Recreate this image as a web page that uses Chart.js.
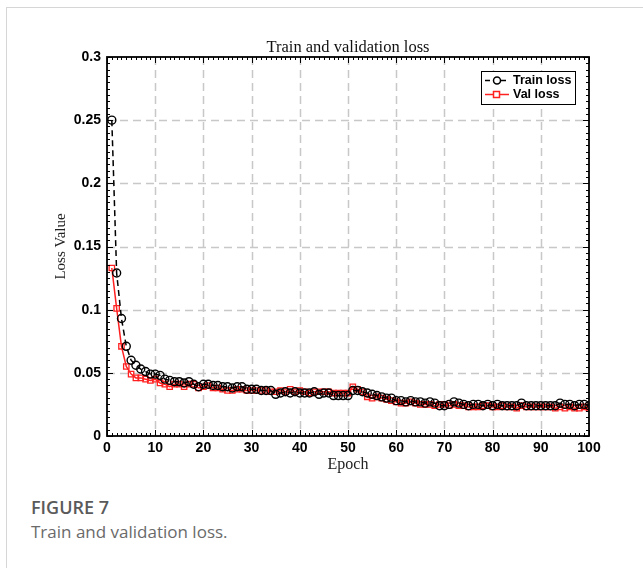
<!DOCTYPE html>
<html>
<head>
<meta charset="utf-8">
<script src="https://cdn.jsdelivr.net/npm/chart.js@4/dist/chart.umd.min.js"></script>
<style>
  body { margin: 0; background: #fff; width: 643px; height: 568px; overflow: hidden; position: relative; }
  #card { position: absolute; left: 6px; top: 7px; width: 700px; height: 600px; border: 1px solid #d6d6d6; }
  #wrap { position: absolute; left: 0; top: 0; width: 643px; height: 480px; }
  .cap1 { position: absolute; left: 31px; top: 495px; font-family: "Open Sans", sans-serif; font-weight: 600; font-size: 18px; color: #5a5a5a; }
  .cap2 { position: absolute; left: 31px; top: 520px; font-family: "Open Sans", sans-serif; font-size: 17px; color: #6a6a6a; }
</style>
</head>
<body>
<div id="card"></div>
<div id="wrap"><canvas id="lossChart" width="643" height="480"></canvas></div>
<div class="cap1">FIGURE 7</div>
<div class="cap2">Train and validation loss.</div>
<script>
const epochs = Array.from({ length: 100 }, (_, i) => i + 1);

const trainLoss = [
  0.250, 0.129, 0.093, 0.071, 0.060, 0.056, 0.053, 0.051, 0.049, 0.049,
  0.048, 0.045, 0.044, 0.043, 0.043, 0.042, 0.043, 0.041, 0.039, 0.041,
  0.041, 0.040, 0.040, 0.039, 0.039, 0.038, 0.039, 0.039, 0.037, 0.037,
  0.037, 0.036, 0.036, 0.036, 0.033, 0.034, 0.035, 0.034, 0.035, 0.034,
  0.034, 0.034, 0.035, 0.033, 0.034, 0.034, 0.032, 0.032, 0.032, 0.032,
  0.036, 0.036, 0.035, 0.034, 0.033, 0.032, 0.031, 0.030, 0.030, 0.028,
  0.028, 0.027, 0.028, 0.027, 0.027, 0.026, 0.027, 0.026, 0.024, 0.024,
  0.025, 0.027, 0.026, 0.025, 0.024, 0.025, 0.025, 0.024, 0.025, 0.024,
  0.025, 0.024, 0.024, 0.024, 0.024, 0.026, 0.024, 0.024, 0.024, 0.024,
  0.024, 0.024, 0.024, 0.026, 0.025, 0.025, 0.024, 0.025, 0.025, 0.024
];

const valLoss = [
  0.133, 0.101, 0.071, 0.055, 0.049, 0.046, 0.046, 0.045, 0.044, 0.045,
  0.042, 0.041, 0.039, 0.041, 0.041, 0.039, 0.041, 0.041, 0.038, 0.039,
  0.040, 0.038, 0.038, 0.037, 0.036, 0.036, 0.037, 0.037, 0.036, 0.036,
  0.036, 0.036, 0.036, 0.035, 0.035, 0.036, 0.035, 0.037, 0.035, 0.036,
  0.035, 0.034, 0.035, 0.035, 0.035, 0.035, 0.034, 0.034, 0.034, 0.034,
  0.039, 0.037, 0.035, 0.031, 0.030, 0.031, 0.030, 0.029, 0.028, 0.027,
  0.026, 0.026, 0.027, 0.026, 0.025, 0.025, 0.025, 0.024, 0.025, 0.025,
  0.024, 0.025, 0.024, 0.024, 0.023, 0.023, 0.023, 0.024, 0.024, 0.023,
  0.023, 0.024, 0.023, 0.023, 0.022, 0.024, 0.023, 0.023, 0.023, 0.023,
  0.023, 0.023, 0.022, 0.023, 0.022, 0.023, 0.022, 0.022, 0.023, 0.022
];

const xTicks = [0, 10, 20, 30, 40, 50, 60, 70, 80, 90, 100];
const yTicks = [0, 0.05, 0.1, 0.15, 0.2, 0.25, 0.3];

const serif = '"Liberation Serif", "DejaVu Serif", serif';
const sans = '"Liberation Sans", Arial, sans-serif';

// frame, dashed grid, inward minor ticks, title and legend, MATLAB style
const matlabFrame = {
  id: 'matlabFrame',
  beforeDatasetsDraw(chart) {
    const { ctx, chartArea: a, scales: { x, y } } = chart;
    ctx.save();
    ctx.strokeStyle = '#c8c8c8';
    ctx.lineWidth = 1.5;
    ctx.setLineDash([8, 5]);
    xTicks.forEach(v => {
      if (v === 0 || v === 100) return;
      const px = Math.round(x.getPixelForValue(v)) + 0.5;
      ctx.beginPath(); ctx.moveTo(px, a.top); ctx.lineTo(px, a.bottom); ctx.stroke();
    });
    yTicks.forEach(v => {
      if (v === 0 || v === 0.3) return;
      const py = Math.round(y.getPixelForValue(v)) + 0.5;
      ctx.beginPath(); ctx.moveTo(a.left, py); ctx.lineTo(a.right, py); ctx.stroke();
    });
    ctx.restore();
  },
  afterDatasetsDraw(chart) {
    const { ctx, chartArea: a, scales: { x, y } } = chart;
    ctx.save();
    ctx.strokeStyle = '#000';
    ctx.lineWidth = 1;
    ctx.setLineDash([]);
    ctx.beginPath();
    for (let e = 0; e <= 100; e++) {
      const px = Math.round(x.getPixelForValue(e)) + 0.5;
      const len = e % 10 === 0 ? 6 : 3;
      ctx.moveTo(px, a.bottom); ctx.lineTo(px, a.bottom - len);
      ctx.moveTo(px, a.top); ctx.lineTo(px, a.top + len);
    }
    for (let k = 0; k <= 60; k++) {
      const py = Math.round(y.getPixelForValue(k * 0.005)) + 0.5;
      const len = k % 10 === 0 ? 6 : 3;
      ctx.moveTo(a.left, py); ctx.lineTo(a.left + len, py);
      ctx.moveTo(a.right, py); ctx.lineTo(a.right - len, py);
    }
    ctx.stroke();
    ctx.lineWidth = 1.8;
    ctx.strokeRect(a.left, a.top, a.right - a.left, a.bottom - a.top);

    // title
    ctx.fillStyle = '#111';
    ctx.font = '16.5px ' + serif;
    ctx.textAlign = 'center';
    ctx.textBaseline = 'alphabetic';
    ctx.fillText('Train and validation loss', (a.left + a.right) / 2, a.top - 5);

    // legend
    const lx = a.right - 108, ly = a.top + 14, lw = 94, lh = 33;
    ctx.fillStyle = '#fff';
    ctx.fillRect(lx, ly, lw, lh);
    ctx.lineWidth = 1;
    ctx.strokeStyle = '#000';
    ctx.strokeRect(lx + 0.5, ly + 0.5, lw, lh);
    const rows = [
      { label: 'Train loss', color: '#000', dash: [5, 3], shape: 'circle', y: ly + 9.5 },
      { label: 'Val loss', color: '#ff2020', dash: [], shape: 'rect', y: ly + 23.5 }
    ];
    rows.forEach(r => {
      ctx.strokeStyle = r.color;
      ctx.lineWidth = 1.5;
      ctx.setLineDash(r.dash);
      ctx.beginPath(); ctx.moveTo(lx + 4, r.y); ctx.lineTo(lx + 28, r.y); ctx.stroke();
      ctx.setLineDash([]);
      ctx.fillStyle = '#fff';
      ctx.beginPath();
      if (r.shape === 'circle') ctx.arc(lx + 16, r.y, 3.5, 0, Math.PI * 2);
      else ctx.rect(lx + 12.5, r.y - 3, 6, 6);
      ctx.fill(); ctx.stroke();
      ctx.fillStyle = '#000';
      ctx.font = 'bold 12.5px ' + sans;
      ctx.textAlign = 'left';
      ctx.textBaseline = 'middle';
      ctx.fillText(r.label, lx + 32, r.y + 0.5);
    });
    ctx.restore();
  }
};

const ctx = document.getElementById('lossChart').getContext('2d');
new Chart(ctx, {
  type: 'line',
  data: {
    labels: epochs,
    datasets: [
      {
        label: 'Train loss',
        data: epochs.map((e, i) => ({ x: e, y: trainLoss[i] })),
        borderColor: '#000',
        borderWidth: 1.5,
        borderDash: [6, 4],
        pointStyle: 'circle',
        pointRadius: 4,
        pointBorderWidth: 1.4,
        pointBorderColor: '#000',
        pointBackgroundColor: 'rgba(255,255,255,0)',
        tension: 0
      },
      {
        label: 'Val loss',
        data: epochs.map((e, i) => ({ x: e, y: valLoss[i] })),
        borderColor: '#ff2020',
        borderWidth: 1.5,
        pointStyle: 'rect',
        pointRadius: 3.8,
        pointBorderWidth: 1.3,
        pointBorderColor: '#ff2020',
        pointBackgroundColor: 'rgba(255,255,255,0)',
        tension: 0
      }
    ]
  },
  options: {
    responsive: false,
    animation: false,
    layout: { padding: { left: 48, right: 54, top: 57, bottom: 4 } },
    plugins: { legend: { display: false }, tooltip: { enabled: false } },
    scales: {
      x: {
        type: 'linear',
        min: 0,
        max: 100,
        afterBuildTicks: s => { s.ticks = xTicks.map(v => ({ value: v })); },
        afterFit: s => { s.height = 40; },
        grid: { display: false, drawTicks: false },
        border: { display: false },
        ticks: { color: '#000', padding: 4, maxRotation: 0, font: { family: sans, weight: 'bold', size: 14 } },
        title: { display: true, text: 'Epoch', color: '#222', padding: { top: 0, bottom: 2 }, font: { family: serif, size: 16 } }
      },
      y: {
        min: 0,
        max: 0.3,
        afterBuildTicks: s => { s.ticks = yTicks.map(v => ({ value: v })); },
        afterFit: s => { s.width = 59; },
        grid: { display: false, drawTicks: false },
        border: { display: false },
        ticks: { color: '#000', padding: 6, callback: v => String(+v.toFixed(2)), font: { family: sans, weight: 'bold', size: 14 } },
        title: { display: true, text: 'Loss Value', color: '#222', padding: { top: 4, bottom: 0 }, font: { family: serif, size: 15 } }
      }
    }
  },
  plugins: [matlabFrame]
});
</script>
</body>
</html>
